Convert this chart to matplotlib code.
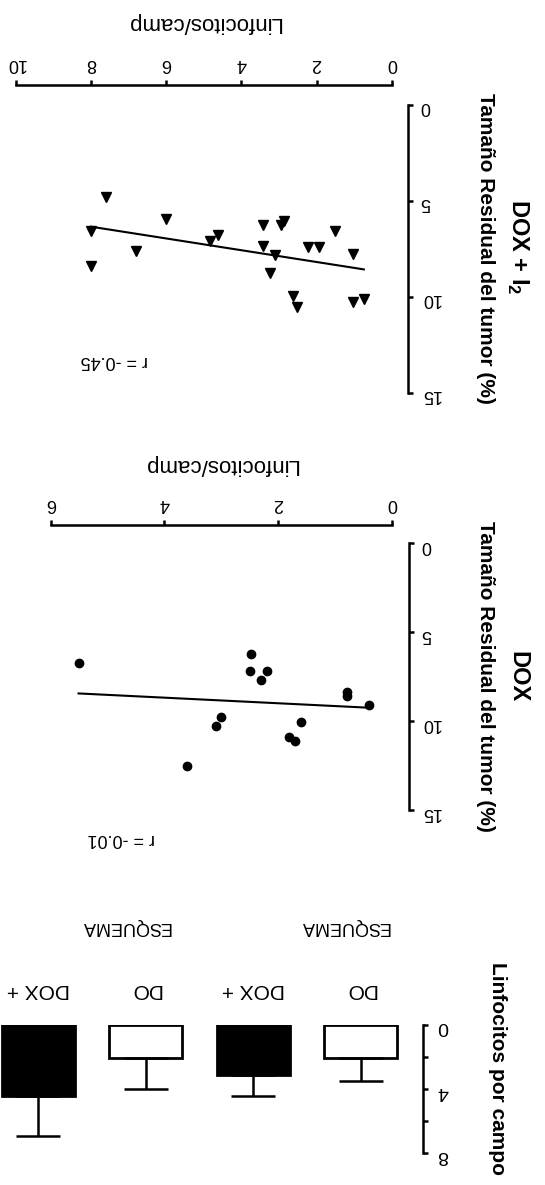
import numpy as np
import matplotlib
matplotlib.use("Agg")
import matplotlib.pyplot as plt

plt.rcParams['font.family'] = ['Liberation Sans', 'DejaVu Sans']
plt.rcParams['mathtext.fontset'] = 'custom'
plt.rcParams['mathtext.rm'] = 'Liberation Sans'
plt.rcParams['mathtext.bf'] = 'Liberation Sans:bold'

W, H = 545, 1185

# DOX + I2 : linfocitos/campo vs tamaño residual del tumor (%)
dox_i2_linf = [7.59, 6.00, 2.86, 2.94, 3.41, 8.00, 1.52, 4.62, 4.82, 3.41, 2.23,
               1.94, 6.79, 3.11, 1.03, 8.00, 3.23, 2.63, 2.53, 1.03, 0.74]
dox_i2_tumor = [4.83, 5.95, 6.08, 6.26, 6.29, 6.58, 6.60, 6.81, 7.12, 7.36, 7.41,
                7.41, 7.64, 7.84, 7.76, 8.41, 8.76, 9.96, 10.52, 10.26, 10.09]
dox_i2_fit = (-0.306, 8.80)   # pendiente, ordenada  (tumor = a*linf + b)

# DOX
dox_linf = [5.51, 2.47, 2.50, 2.20, 2.30, 0.79, 0.79, 0.40, 3.01, 1.60, 3.10,
            1.80, 1.70, 3.60]
dox_tumor = [6.72, 6.24, 7.17, 7.17, 7.69, 8.34, 8.58, 9.09, 9.74, 10.02, 10.26,
             10.86, 11.13, 12.50]
dox_fit = (-0.157, 9.30)

# barras: linfocitos por campo
bar_labels = ["DO", "DOX +", "DO", "DOX +"]
bar_means = [2.07, 3.14, 2.07, 4.45]
bar_err = [1.40, 1.27, 1.92, 2.48]
bar_filled = [False, True, False, True]


def rect(x0, y0, x1, y1):
    # pixel box (origin top-left) -> figure fraction
    return [x0 / W, 1 - y1 / H, (x1 - x0) / W, (y1 - y0) / H]


def ftext(x, y, s, **kw):
    fig.text(x / W, 1 - y / H, s, **kw)


fig = plt.figure(figsize=(W / 100, H / 100), dpi=100)


def scatter_panel(box, linf, tumor, fit, marker, ms, xmax, top_off, right_off):
    ax = fig.add_axes(rect(*box))
    ax.patch.set_visible(False)
    ax.plot(linf, tumor, ls='none', marker=marker, color='black', ms=ms)
    lx = np.array([min(linf), max(linf)])
    ax.plot(lx, fit[0] * lx + fit[1], color='black', lw=1.5)
    ax.set_xlim(xmax, 0)
    ax.set_ylim(15, 0)
    ax.spines[['left', 'bottom']].set_visible(False)
    ax.spines['top'].set_position(('outward', top_off))
    ax.spines['right'].set_position(('outward', right_off))
    for s in ['top', 'right']:
        ax.spines[s].set_linewidth(1.8)
    ax.xaxis.tick_top()
    ax.yaxis.tick_right()
    ax.set_xticks(np.arange(0, xmax + 1, 2))
    ax.set_yticks([0, 5, 10, 15])
    ax.tick_params(direction='out', length=3.5, width=1.8, labelsize=13,
                   labelrotation=180)
    ax.tick_params(axis='x', pad=6)
    ax.tick_params(axis='y', pad=5)
    return ax


# panel DOX + I2
scatter_panel((15.7, 104.5, 391.7, 393.0), dox_i2_linf, dox_i2_tumor, dox_i2_fit,
              'v', 7, 10, 14, 12)
ftext(203.7, 23, "Linfocitos/camp", rotation=180, ha='center', va='center', fontsize=16)
ftext(485, 248.7, "Tamaño Residual del tumor (%)", rotation=-90, ha='center',
      va='center', fontsize=15, fontweight='bold')
ftext(518, 246.7, r"DOX + I$_{\mathbf{2}}$", rotation=-90, ha='center', va='center',
      fontsize=17, fontweight='bold')
ftext(114, 360, "r = -0.45", rotation=180, ha='center', va='center', fontsize=13)

# panel DOX
scatter_panel((50.7, 543.3, 391.7, 810.3), dox_linf, dox_tumor, dox_fit,
              'o', 6, 6, 13.2, 12.5)
ftext(221, 464.7, "Linfocitos/camp", rotation=180, ha='center', va='center', fontsize=16)
ftext(485, 676.8, "Tamaño Residual del tumor (%)", rotation=-90, ha='center',
      va='center', fontsize=15, fontweight='bold')
ftext(518, 676.8, "DOX", rotation=-90, ha='center', va='center',
      fontsize=17, fontweight='bold')
ftext(121, 839, "r = -0.01", rotation=180, ha='center', va='center', fontsize=13)

# barras
axb = fig.add_axes(rect(0, 1025, 414.6, 1153.3))
axb.patch.set_visible(False)
pos = np.arange(len(bar_means))
axb.bar(pos, bar_means, width=0.68,
        color=['black' if f else 'white' for f in bar_filled],
        edgecolor='black', linewidth=2)
axb.errorbar(pos, bar_means, yerr=[np.zeros(len(bar_err)), bar_err], fmt='none',
             ecolor='black', elinewidth=1.8, capsize=16, capthick=1.8)
axb.set_xlim(3.354, -0.5)
axb.set_ylim(8, 0)
axb.spines[['left', 'bottom', 'top']].set_visible(False)
axb.spines['right'].set_position(('outward', 5.8))
axb.spines['right'].set_linewidth(1.8)
axb.yaxis.tick_right()
axb.set_yticks([0, 4, 8])
axb.set_yticks([2, 6], minor=True)
axb.tick_params(axis='y', which='both', direction='out', length=3.5, width=1.8,
                labelsize=14, labelrotation=180, pad=7)
axb.xaxis.tick_top()
axb.set_xticks(pos, bar_labels)
axb.tick_params(axis='x', length=0, labelsize=15, labelrotation=180, pad=19)

ftext(344.9, 927, "ESQUEMA", rotation=180, ha='center', va='center', fontsize=13)
ftext(125.1, 927, "ESQUEMA", rotation=180, ha='center', va='center', fontsize=13)
ftext(497, 962, "Linfocitos por campo", rotation=-90, ha='center', va='top',
      fontsize=15, fontweight='bold')

fig.savefig("out.png", dpi=100)
